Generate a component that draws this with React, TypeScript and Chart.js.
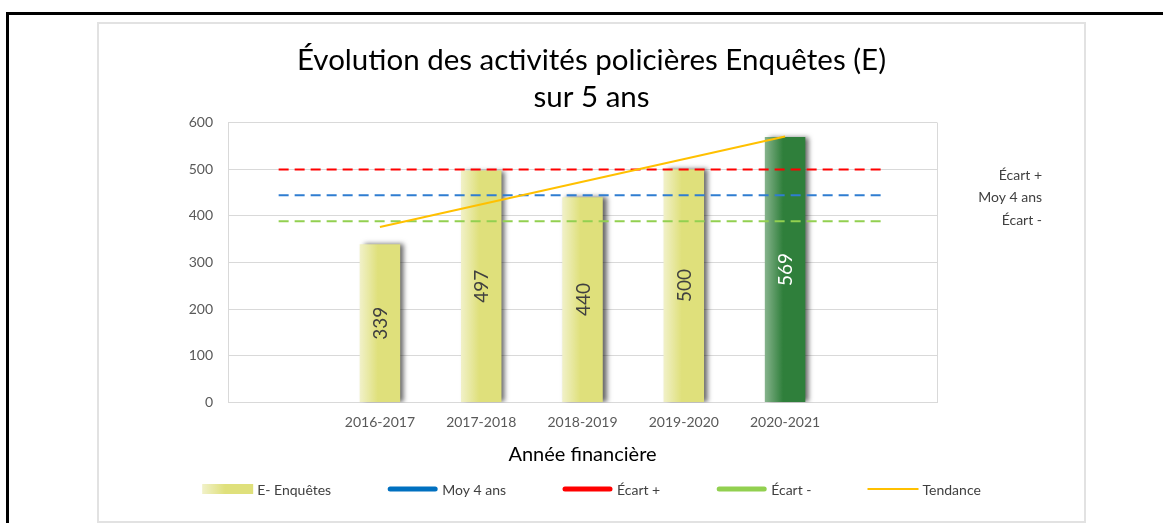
import React, { useEffect, useRef } from 'react';
import { Chart, registerables } from 'chart.js';

Chart.register(...registerables);

// ---------- data ----------
const categories = ['', '2016-2017', '2017-2018', '2018-2019', '2019-2020', '2020-2021', ''];
const enquetes = [null, 339, 497, 440, 500, 569, null];
const moy4ans = [444, 444, 444, 444, 444, 444, 444];
const ecartPlus = [499.5, 499.5, 499.5, 499.5, 499.5, 499.5, 499.5];
const ecartMoins = [388.5, 388.5, 388.5, 388.5, 388.5, 388.5, 388.5];
const tendance = [null, 376, null, null, null, 570, null];
const yMin = 0;
const yMax = 600;
const yStep = 100;
const titleLines = ['Évolution des activités policières Enquêtes (E)', 'sur 5 ans'];
const xTitle = 'Année financière';
const legendLabels = ['E- Enquêtes', 'Moy 4 ans', 'Écart +', 'Écart -', 'Tendance'];
const sideLabels = ['Écart +', 'Moy 4 ans', 'Écart -'];
const highlightCategory = '2020-2021';

// ---------- styles ----------
const FONT = 'Lato, "Open Sans", sans-serif';
const YELLOW = '#dfe07b';
const YELLOW_LIGHT = '#f1f1c9';
const GREEN = '#2f7f3b';
const GREEN_LIGHT = '#86b38c';
const BLUE_LINE = '#2f7dd1';
const BLUE_LEG = '#0070c0';
const RED = '#ff0000';
const GREEN_LINE = '#92d050';
const TREND = '#ffc000';
const GRID = '#d9d9d9';
const BAR_FRACTION = 0.4;

function isHighlight(i: number) {
  return categories[i] === highlightCategory;
}

function barGradient(ctx: any) {
  const chart = ctx.chart;
  const i = ctx.dataIndex;
  const hl = isHighlight(i);
  const main = hl ? GREEN : YELLOW;
  const light = hl ? GREEN_LIGHT : YELLOW_LIGHT;
  const xs = chart.scales && chart.scales.x;
  if (!xs || ctx.type !== 'data' || !xs.width) return main;
  const cx = xs.getPixelForValue(i);
  const w = (xs.width / categories.length) * BAR_FRACTION;
  const g = chart.ctx.createLinearGradient(cx - w / 2, 0, cx + w / 2, 0);
  g.addColorStop(0, light);
  g.addColorStop(0.45, main);
  g.addColorStop(1, main);
  return g;
}

const decorPlugin = {
  id: 'decor',
  beforeDatasetsDraw(chart: any) {
    const { ctx, chartArea: a } = chart;
    ctx.save();
    ctx.strokeStyle = GRID;
    ctx.lineWidth = 1;
    ctx.beginPath();
    ctx.moveTo(Math.round(a.right) + 0.5, a.top);
    ctx.lineTo(Math.round(a.right) + 0.5, a.bottom);
    ctx.stroke();
    ctx.restore();
  },
  beforeDatasetDraw(chart: any, args: any) {
    if (args.meta.type === 'bar') {
      const ctx = chart.ctx;
      ctx.save();
      ctx.shadowColor = 'rgba(0,0,0,0.6)';
      ctx.shadowBlur = 5;
      ctx.shadowOffsetX = 4;
      ctx.shadowOffsetY = 0;
    }
  },
  afterDatasetDraw(chart: any, args: any) {
    if (args.meta.type === 'bar') chart.ctx.restore();
  },
  afterDatasetsDraw(chart: any) {
    const ctx = chart.ctx;
    const meta = chart.getDatasetMeta(0);
    ctx.save();
    ctx.font = `19px ${FONT}`;
    ctx.textAlign = 'center';
    ctx.textBaseline = 'middle';
    meta.data.forEach((el: any, i: number) => {
      const v = enquetes[i];
      if (v == null) return;
      ctx.save();
      ctx.translate(el.x, (el.y + el.base) / 2);
      ctx.rotate(-Math.PI / 2);
      ctx.fillStyle = isHighlight(i) ? '#ffffff' : '#404040';
      ctx.fillText(String(v), 0, 1);
      ctx.restore();
    });
    ctx.restore();
  },
  afterDraw(chart: any) {
    const ctx = chart.ctx;
    const W = chart.width;

    // title (centred on the whole chart box)
    ctx.save();
    ctx.font = `29.5px ${FONT}`;
    ctx.fillStyle = '#000000';
    ctx.textAlign = 'center';
    ctx.textBaseline = 'middle';
    const titleY = [36, 73];
    titleLines.forEach((t, k) => ctx.fillText(t, W / 2, titleY[k]));
    ctx.restore();

    // side labels
    ctx.save();
    ctx.font = `14px ${FONT}`;
    ctx.fillStyle = '#404040';
    ctx.textAlign = 'right';
    ctx.textBaseline = 'middle';
    const sideY = [151, 173, 196];
    sideLabels.forEach((t, k) => ctx.fillText(t, 943, sideY[k]));
    ctx.restore();

    // legend
    ctx.save();
    ctx.font = `14px ${FONT}`;
    ctx.textBaseline = 'middle';
    ctx.textAlign = 'left';
    const sym = 51;
    const textGap = 4;
    const gap = 56;
    const widths = legendLabels.map((t) => ctx.measureText(t).width);
    const total = widths.reduce((s, w) => s + sym + textGap + w, 0) + gap * (legendLabels.length - 1);
    let x = W / 2 - total / 2;
    const y = 465;
    const styles = [
      { kind: 'rect' },
      { kind: 'line', color: BLUE_LEG, lw: 5 },
      { kind: 'line', color: RED, lw: 5 },
      { kind: 'line', color: GREEN_LINE, lw: 5 },
      { kind: 'thin', color: TREND, lw: 2 },
    ];
    legendLabels.forEach((t, k) => {
      const s: any = styles[k];
      if (s.kind === 'rect') {
        const g = ctx.createLinearGradient(x, 0, x + sym, 0);
        g.addColorStop(0, YELLOW_LIGHT);
        g.addColorStop(0.45, YELLOW);
        g.addColorStop(1, YELLOW);
        ctx.fillStyle = g;
        ctx.fillRect(x, y - 5, sym, 10);
      } else {
        ctx.strokeStyle = s.color;
        ctx.lineWidth = s.lw;
        ctx.lineCap = s.kind === 'line' ? 'round' : 'butt';
        ctx.beginPath();
        const inset = s.kind === 'line' ? 3 : 0;
        ctx.moveTo(x + inset, y);
        ctx.lineTo(x + sym - inset, y);
        ctx.stroke();
      }
      ctx.fillStyle = '#404040';
      ctx.fillText(t, x + sym + textGap, y + 1);
      x += sym + textGap + widths[k] + gap;
    });
    ctx.restore();
  },
};

export default function App() {
  const canvasRef = useRef<HTMLCanvasElement | null>(null);

  useEffect(() => {
    const canvas = canvasRef.current;
    if (!canvas) return;
    const chart = new Chart(canvas, {
      type: 'bar',
      data: {
        labels: categories,
        datasets: [
          {
            type: 'bar',
            label: legendLabels[0],
            data: enquetes,
            backgroundColor: barGradient,
            borderWidth: 0,
            categoryPercentage: 1,
            barPercentage: BAR_FRACTION,
            order: 5,
          },
          {
            type: 'line',
            label: legendLabels[1],
            data: moy4ans,
            borderColor: BLUE_LINE,
            borderWidth: 2,
            borderDash: [10, 6],
            pointRadius: 0,
            fill: false,
            order: 1,
          },
          {
            type: 'line',
            label: legendLabels[2],
            data: ecartPlus,
            borderColor: RED,
            borderWidth: 2,
            borderDash: [10, 6],
            pointRadius: 0,
            fill: false,
            order: 1,
          },
          {
            type: 'line',
            label: legendLabels[3],
            data: ecartMoins,
            borderColor: GREEN_LINE,
            borderWidth: 2,
            borderDash: [10, 6],
            pointRadius: 0,
            fill: false,
            order: 1,
          },
          {
            type: 'line',
            label: legendLabels[4],
            data: tendance,
            borderColor: TREND,
            borderWidth: 2,
            pointRadius: 0,
            spanGaps: true,
            fill: false,
            order: 0,
          },
        ],
      } as any,
      options: {
        responsive: true,
        maintainAspectRatio: false,
        animation: false,
        events: [],
        layout: { padding: { left: 0, right: 147, top: 98.5, bottom: 48 } },
        plugins: {
          legend: { display: false },
          tooltip: { enabled: false },
          title: { display: false },
        },
        scales: {
          x: {
            grid: { display: false, drawTicks: false },
            border: { display: true, color: GRID },
            ticks: { color: '#595959', font: { family: FONT, size: 14 }, padding: 12, maxRotation: 0, autoSkip: false },
            title: {
              display: true,
              text: xTitle,
              color: '#000000',
              font: { family: FONT, size: 20, lineHeight: 1.2 },
              padding: { top: 0, bottom: 6 },
            },
            afterFit(scale: any) {
              scale.height = 70.5;
            },
          },
          y: {
            min: yMin,
            max: yMax,
            grid: { color: GRID, drawTicks: false },
            border: { display: true, color: GRID },
            ticks: { stepSize: yStep, color: '#595959', font: { family: FONT, size: 14 }, padding: 15 },
            afterFit(scale: any) {
              scale.width = 129;
            },
          },
        },
      } as any,
      plugins: [decorPlugin],
    });
    return () => chart.destroy();
  }, []);

  return (
    <div style={{ position: 'fixed', left: 0, top: 0, width: 1163, height: 523, background: '#fff', overflow: 'hidden' }}>
      <div
        style={{
          position: 'absolute',
          left: 6,
          top: 12,
          width: 1157,
          height: 511,
          borderTop: '3px solid #000',
          borderLeft: '3px solid #000',
          boxSizing: 'border-box',
        }}
      />
      <div
        style={{
          position: 'absolute',
          left: 97,
          top: 22,
          width: 989,
          height: 501,
          border: '2px solid #e2e2e2',
          boxSizing: 'border-box',
        }}
      >
        <div style={{ position: 'relative', width: 985, height: 497 }}>
          <canvas ref={canvasRef} />
        </div>
      </div>
    </div>
  );
}
